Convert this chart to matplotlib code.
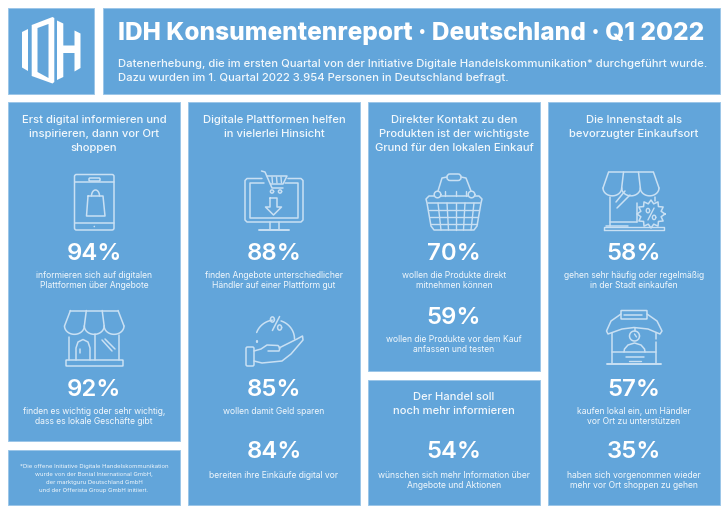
#IDH Konsumentenreport - Infografik
import numpy as np
import matplotlib
matplotlib.use("Agg")
import matplotlib.pyplot as plt
from matplotlib.patches import Rectangle, FancyBboxPatch, Polygon, Circle

BLEU = "#62a5da"
BORD = "#9cc6e8"
ICONE = "#c9e0f3"
BLANC = "#ffffff"
TEXTE = "#f2f8fc"

plt.rcParams["font.family"] = ["Inter", "Roboto", "DejaVu Sans"]

# textes
titre = "IDH Konsumentenreport · Deutschland · Q1 2022"
sous_titre = [
    "Datenerhebung, die im ersten Quartal von der Initiative Digitale Handelskommunikation* durchgeführt wurde.",
    "Dazu wurden im 1. Quartal 2022 3.954 Personen in Deutschland befragt.",
]
titre_1 = ["Erst digital informieren und", "inspirieren, dann vor Ort", "shoppen"]
titre_2 = ["Digitale Plattformen helfen", "in vielerlei Hinsicht"]
titre_3 = ["Direkter Kontakt zu den", "Produkten ist der wichtigste", "Grund für den lokalen Einkauf"]
titre_4 = ["Der Handel soll", "noch mehr informieren"]
titre_5 = ["Die Innenstadt als", "bevorzugter Einkaufsort"]

valeurs_1 = [94, 92]
valeurs_2 = [88, 85, 84]
valeurs_3 = [70, 59]
valeurs_4 = [54]
valeurs_5 = [58, 57, 35]

legendes_1 = [["informieren sich auf digitalen", "Plattformen über Angebote"],
              ["finden es wichtig oder sehr wichtig,", "dass es lokale Geschäfte gibt"]]
legendes_2 = [["finden Angebote unterschiedlicher", "Händler auf einer Plattform gut"],
              ["wollen damit Geld sparen"],
              ["bereiten ihre Einkäufe digital vor"]]
legendes_3 = [["wollen die Produkte direkt", "mitnehmen können"],
              ["wollen die Produkte vor dem Kauf", "anfassen und testen"]]
legendes_4 = [["wünschen sich mehr Information über", "Angebote und Aktionen"]]
legendes_5 = [["gehen sehr häufig oder regelmäßig", "in der Stadt einkaufen"],
              ["kaufen lokal ein, um Händler", "vor Ort zu unterstützen"],
              ["haben sich vorgenommen wieder", "mehr vor Ort shoppen zu gehen"]]
note = ["*Die offene Initiative Digitale Handelskommunikation",
        "wurde von der Bonial International GmbH,",
        "der marktguru Deutschland GmbH",
        "und der Offerista Group GmbH initiiert."]

fig = plt.figure(figsize=(7.28, 5.14), dpi=100)
ax = fig.add_axes([0, 0, 1, 1])
ax.set_xlim(0, 728)
ax.set_ylim(514, 0)
ax.axis("off")


def panneau(x0, y0, x1, y1):
    ax.add_patch(Rectangle((x0, y0), x1 - x0, y1 - y0, fc=BLEU, ec=BORD, lw=0.7))


def lignes(x, y, textes, taille, poids=400, dy=14, ha="center", couleur=TEXTE):
    for i, t in enumerate(textes):
        ax.text(x, y + i * dy, t, fontsize=taille, fontweight=poids, color=couleur,
                ha=ha, va="center_baseline")


def bloc(x, y, valeur, legende, y_leg):
    ax.text(x, y, f"{valeur}%", fontsize=17.2, fontweight=600, color=BLANC, ha="center", va="center_baseline")
    lignes(x, y_leg, legende, 6.2, dy=9.5)


def trait(pts, lw=1.1):
    pts = np.array(pts, dtype=float)
    ax.plot(pts[:, 0], pts[:, 1], color=ICONE, lw=lw, solid_capstyle="round", solid_joinstyle="round")


def boite(x0, y0, x1, y1, r=1.5, lw=1.1):
    ax.add_patch(FancyBboxPatch((x0, y0), x1 - x0, y1 - y0, boxstyle=f"round,pad=0,rounding_size={r}",
                                fc="none", ec=ICONE, lw=lw))


def arc(cx, cy, rx, ry, a0, a1, lw=1.1):
    a = np.radians(np.linspace(a0, a1, 40))
    ax.plot(cx + rx * np.cos(a), cy + ry * np.sin(a), color=ICONE, lw=lw, solid_capstyle="round")


def store(x0, x1, y_haut, y_bas, n=3):
    # store banne festonne
    l = (x1 - x0) / n
    marge = l * 0.3
    trait([(x0 + marge, y_haut), (x1 - marge, y_haut)])
    trait([(x0 + marge, y_haut), (x0, y_bas)])
    trait([(x1 - marge, y_haut), (x1, y_bas)])
    for i in range(n):
        arc(x0 + l * (i + 0.5), y_bas, l / 2, l * 0.42, 0, 180)
    trait([(x0 + marge + (l - marge * 2 / n) * 1, y_haut), (x0 + l, y_bas)])
    trait([(x1 - marge - (l - marge * 2 / n) * 1, y_haut), (x1 - l, y_bas)])


def pourcent(cx, cy, s=1.0, lw=1.1):
    trait([(cx + 3.6 * s, cy - 7 * s), (cx - 3.6 * s, cy + 7 * s)], lw)
    arc(cx - 3.6 * s, cy - 4 * s, 2 * s, 2.6 * s, 0, 360, lw)
    arc(cx + 3.6 * s, cy + 4 * s, 2 * s, 2.6 * s, 0, 360, lw)


def icone_tablette():
    boite(74.5, 174.5, 114, 230, r=2)
    trait([(75, 182), (114, 182)])
    trait([(75, 223), (114, 223)])
    boite(89, 178, 100, 181, r=1)
    ax.add_patch(Circle((94.3, 226.5), 0.8, fc=ICONE, ec="none"))
    trait([(88, 196), (103, 196), (105, 216), (86.5, 216), (88, 196)])
    arc(95.5, 196, 4, 6, 180, 360)


def icone_magasin():
    store(64.5, 124, 310.5, 326)
    trait([(69, 337), (69, 360)])
    trait([(119, 335), (119, 360)])
    boite(66, 360, 123, 366, r=0.5)
    trait([(76, 360), (76, 348), (78, 342), (83, 339.5), (88, 342), (90, 348), (90, 360)])
    trait([(80, 349), (80, 353)])
    trait([(95, 334), (95, 360)])
    trait([(102, 340), (112, 351)])
    trait([(105, 339), (115, 349)])


def icone_ecran():
    trait([(262, 178.5), (247, 178.5), (245, 180.5), (245, 220), (247, 222), (301, 222), (303, 220), (303, 180.5), (301, 178.5), (288, 178.5)])
    trait([(264, 182.5), (250, 182.5), (250, 217.5), (298, 217.5), (298, 182.5), (285, 182.5)])
    trait([(270, 222), (270, 229.5)])
    trait([(279, 222), (279, 229.5)])
    trait([(259, 229.5), (289, 229.5)], 1.4)
    trait([(261.5, 171), (265, 172), (272, 188), (283, 188)])
    trait([(267, 176), (287, 176), (283, 184), (270.5, 184)])
    for xb in (272, 276.5, 281):
        trait([(xb, 177), (xb + 0.5, 183)], 1)
    arc(272, 191.5, 1.6, 1.6, 0, 360)
    arc(280, 191.5, 1.6, 1.6, 0, 360)
    trait([(270, 198), (277, 198), (277, 207), (281.5, 207), (273.5, 215), (265.5, 207), (270, 207), (270, 198)])


def icone_main():
    arc(275, 339, 19.5, 19, 200, 262)
    arc(275, 339, 19.5, 19, 288, 360)
    trait([(256.5, 342), (256.5, 341)], 1.6)
    pourcent(276, 323.5, 1.0)
    boite(246, 347, 254, 366, r=1.5)
    trait([(254, 351), (261, 349), (267, 345), (278, 345.5), (280, 348), (279, 351), (268, 351)])
    trait([(279, 348), (297, 339), (302.5, 336), (303, 340), (291, 354), (282, 361), (262, 363), (254, 361)])


def icone_panier():
    boite(447, 174, 461, 180.5, r=3)
    trait([(447, 177), (442, 178), (438, 191)])
    trait([(461, 177), (466, 178), (471, 191)])
    arc(437.5, 194.5, 3.3, 3.3, 0, 360)
    arc(471.5, 194.5, 3.3, 3.3, 0, 360)
    trait([(441, 196), (468, 196)])
    # rebord et corps du panier
    trait([(434, 196), (429, 196), (426, 199), (427, 203), (431, 226), (434, 230), (474, 230), (477, 226), (481, 203), (482, 199), (479, 196), (475, 196)])
    trait([(428, 203), (480, 203)])
    for y, dx in ((210, 1), (217, 2), (224, 3)):
        trait([(428 + dx, y), (480 - dx, y)], 1)
    for xh, xb in ((438, 441), (447, 448.5), (456, 456), (465, 463.5), (474, 471)):
        trait([(xh, 203), (xb, 230)], 1)
    for xh in (445, 456, 466):
        trait([(xh, 196), (xh, 191)], 1)


def icone_boutique():
    store(603, 659, 172, 188)
    trait([(610, 197), (610, 226)])
    trait([(637, 203), (637, 222)])
    trait([(610, 222), (637, 222)])
    trait([(655, 197), (655, 201)])
    trait([(606, 226), (628, 226)])
    trait([(604, 230), (664, 230), (664, 227), (604, 227), (604, 230)], 1)
    trait([(616, 202), (625, 191)])
    trait([(617, 208), (630, 195)])
    # badge
    a = np.radians(np.arange(0, 361, 360 / 24))
    r = np.where(np.arange(len(a)) % 2 == 0, 14, 10.5)
    ax.plot(651 + r * np.cos(a), 214 + r * np.sin(a), color=ICONE, lw=1.1, solid_joinstyle="round", zorder=3)
    pourcent(651, 214, 0.85, 1)


def icone_stand():
    boite(621, 310.5, 647, 319, r=0.5)
    trait([(624, 315), (642, 315)])
    trait([(621, 314), (611, 321), (606.5, 331), (608, 334), (622, 329), (634, 327.5), (648, 329), (660, 334), (662, 331), (657, 321), (647, 314)])
    trait([(612, 333), (612, 364)])
    trait([(656, 333), (656, 339)])
    trait([(656, 342), (656, 364)])
    trait([(607, 364), (661, 364)], 1.4)
    trait([(612, 352), (656, 352)])
    trait([(626, 357), (644, 357)])
    trait([(629, 361), (641, 361)], 1)
    arc(634.5, 336, 5, 5, 0, 360)
    trait([(634.5, 328), (634.5, 331)])
    trait([(634.5, 334), (636.5, 337)], 1)
    trait([(624, 352), (624.5, 349), (628, 345), (634.5, 343), (641, 345), (644.5, 349), (645, 352)])


# logo + bandeau
panneau(8, 8, 94, 94)
panneau(103, 8, 720, 94)
for forme in (
    [(22, 32), (28, 29), (28, 71), (22, 67.5)],
    [(31.7, 25), (52.5, 17), (54.3, 18), (54.3, 82), (52.5, 83.5), (31.7, 76)],
    [(57, 20.5), (63.3, 23.5), (63.3, 45.5), (74.5, 45.5), (74.5, 30.5), (80.5, 33.5), (80.5, 68), (74.5, 71.5),
     (74.5, 53), (63.3, 53), (63.3, 77), (57, 80)],
):
    ax.add_patch(Polygon(forme, closed=True, fc=BLANC, ec="none"))
ax.add_patch(Polygon([(37.5, 28), (48.5, 24), (48.5, 78), (37.5, 72)], closed=True, fc=BLEU, ec="none"))

ax.text(118, 31, titre, fontsize=17.6, fontweight=800, color=BLANC, ha="left", va="center_baseline")
lignes(118, 63, sous_titre, 8.12, poids=500, dy=14, ha="left")

# colonnes
panneau(8, 102, 180, 441)
panneau(8, 450, 180, 505)
panneau(188, 102, 360, 505)
panneau(368, 102, 540, 371)
panneau(368, 379.5, 540, 505)
panneau(548, 102, 720, 505)

lignes(94, 119, titre_1, 8.1, poids=500)
lignes(274, 119, titre_2, 8.1, poids=500)
lignes(454, 119, titre_3, 8.1, poids=500)
lignes(454, 395.5, titre_4, 8.1, poids=500)
lignes(634, 119, titre_5, 8.1, poids=500)

bloc(94, 251, valeurs_1[0], legendes_1[0], 275)
bloc(94, 387, valeurs_1[1], legendes_1[1], 411)
bloc(274, 251, valeurs_2[0], legendes_2[0], 275)
bloc(274, 387, valeurs_2[1], legendes_2[1], 411)
bloc(274, 450, valeurs_2[2], legendes_2[2], 475)
bloc(454, 251, valeurs_3[0], legendes_3[0], 275)
bloc(454, 315, valeurs_3[1], legendes_3[1], 339)
bloc(454, 450, valeurs_4[0], legendes_4[0], 475)
bloc(634, 251, valeurs_5[0], legendes_5[0], 275)
bloc(634, 387, valeurs_5[1], legendes_5[1], 411)
bloc(634, 450, valeurs_5[2], legendes_5[2], 475)

lignes(94, 466, note, 4.3, dy=8)

icone_tablette()
icone_magasin()
icone_ecran()
icone_main()
icone_panier()
icone_boutique()
icone_stand()

fig.savefig("out.png", dpi=100)
